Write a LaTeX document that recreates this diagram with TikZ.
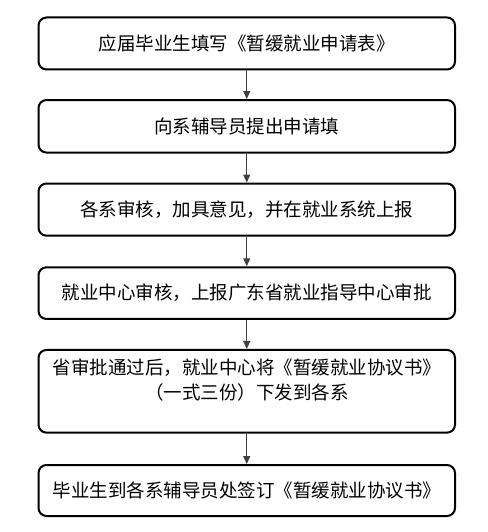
\documentclass[tikz,border=0pt]{standalone}
\usepackage{fontspec}
\setmainfont{Noto Sans CJK SC}
\usetikzlibrary{arrows.meta}
\begin{document}
\begin{tikzpicture}[x=1pt,y=-1pt,
  stepbox/.style={draw=black,line width=2pt,rounded corners=8pt,minimum width=416.5pt,inner sep=0pt,font=\fontsize{18.5pt}{25pt}\selectfont,text=black},
  flow/.style={draw=black!75,line width=1.3pt,-{Triangle[length=8pt,width=7pt]}}]
\useasboundingbox (0,0) rectangle (487,532);
\node[stepbox,minimum height=52pt] (b1) at (246.75,43.5) {应届毕业生填写《暂缓就业申请表》};
\node[stepbox,minimum height=52.5pt] (b2) at (246.75,126.3) {向系辅导员提出申请填};
\node[stepbox,minimum height=52.2pt] (b3) at (246.75,209.6) {各系审核，加具意见，并在就业系统上报};
\node[stepbox,minimum height=51.7pt] (b4) at (246.75,293.1) {就业中心审核，上报广东省就业指导中心审批\hspace{8pt}};
\node[stepbox,minimum height=82.7pt] (b5) at (246.75,391.3) {};
\node[font=\fontsize{18.5pt}{25pt}\selectfont,align=center,anchor=north,inner sep=0pt] (t5) at ([yshift=-10pt]b5.north) {省审批通过后，就业中心将《暂缓就业协议书》\\（一式三份）下发到各系};
\node[stepbox,minimum height=51pt] (b6) at (246.75,490.5) {毕业生到各系辅导员处签订《暂缓就业协议书》};
\draw[flow] (b1) -- (b2);
\draw[flow] (b2) -- (b3);
\draw[flow] (b3) -- (b4);
\draw[flow] (b4) -- (b5);
\draw[flow] (b5) -- (b6);
\end{tikzpicture}
\end{document}
